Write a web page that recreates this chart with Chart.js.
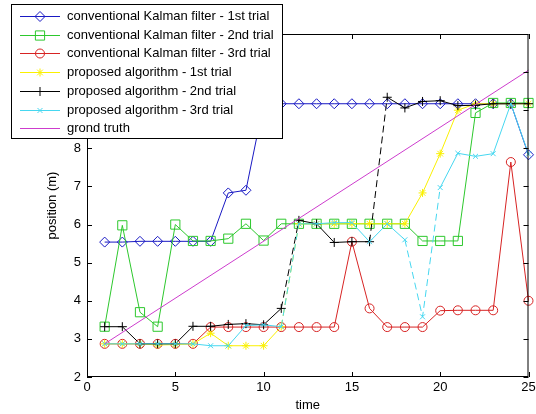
<!DOCTYPE html>
<html>
<head>
<meta charset="utf-8">
<script src="https://cdn.jsdelivr.net/npm/chart.js@4.4.1/dist/chart.umd.min.js"></script>
<style>
  html, body { margin: 0; padding: 0; background: #fff; }
  canvas { display: block; }
</style>
</head>
<body>
<canvas id="graficaPosicion" width="536" height="414"></canvas>
<script>
// valores (t = 1..25)
const tiempo = [1, 2, 3, 4, 5, 6, 7, 8, 9, 10, 11, 12, 13, 14, 15, 16, 17, 18, 19, 20, 21, 22, 23, 24, 25];
const kalman1 = [5.54, 5.54, 5.56, 5.56, 5.56, 5.56, 5.56, 6.83, 6.90, 9.17, 9.17, 9.17, 9.17, 9.17, 9.17, 9.17, 9.17, 9.17, 9.17, 9.17, 9.17, 9.17, 9.17, 9.17, 7.83];
const kalman2 = [3.32, 5.98, 3.70, 3.32, 6.00, 5.57, 5.57, 5.63, 6.02, 5.58, 6.02, 6.02, 6.02, 6.02, 6.02, 6.02, 6.02, 6.02, 5.57, 5.57, 5.57, 8.93, 9.19, 9.19, 9.19];
const kalman3 = [2.87, 2.87, 2.87, 2.87, 2.87, 2.87, 3.31, 3.31, 3.31, 3.31, 3.31, 3.31, 3.31, 3.31, 5.55, 3.80, 3.31, 3.31, 3.31, 3.74, 3.75, 3.75, 3.75, 7.64, 4.00];
const propuesto1 = [2.87, 2.87, 2.87, 2.84, 2.85, 2.87, 3.15, 2.82, 2.82, 2.82, 3.32, 6.02, 6.02, 6.02, 6.02, 6.02, 6.02, 6.02, 6.83, 7.86, 9.00, 9.17, 9.17, 9.17, 9.17];
const propuesto2 = [3.32, 3.32, 2.87, 2.87, 2.87, 3.33, 3.33, 3.38, 3.40, 3.37, 3.80, 6.11, 6.02, 5.53, 5.55, 5.55, 9.34, 9.06, 9.23, 9.25, 9.12, 9.13, 9.17, 9.17, 9.17];
const propuesto3 = [2.87, 2.87, 2.87, 2.87, 2.87, 2.87, 2.82, 2.82, 3.35, 3.37, 3.32, 6.02, 6.02, 6.05, 6.05, 5.55, 6.02, 5.60, 3.58, 6.97, 7.87, 7.79, 7.86, 9.17, 7.85];
const tiempoReal = [1, 25];
const posicionReal = [2.87, 10.05];

const ticksX = [0, 5, 10, 15, 20, 25];
const ticksY = [2, 3, 4, 5, 6, 7, 8, 9, 10, 11];

const fuente = "'Liberation Sans', Arial, sans-serif";

// los tramos muy empinados del algoritmo propuesto se ven discontinuos en la figura
const tramoDiscontinuo = {
    borderDash: (c) => (Math.abs(c.p1.parsed.y - c.p0.parsed.y) > 1.5 ? [7, 4] : undefined),
};

function serie(label, xs, ys, color, estilo, radio, orden, discontinuo) {
    const ds = {
        label: label,
        data: xs.map((x, i) => ({ x: x, y: ys[i] })),
        borderColor: color,
        backgroundColor: color,
        borderWidth: 1,
        pointStyle: estilo,
        pointRadius: radio,
        pointBorderColor: color,
        pointBackgroundColor: "rgba(0,0,0,0)",
        pointBorderWidth: 1,
        tension: 0,
        order: orden,
        clip: 8,
    };
    if (discontinuo) ds.segment = tramoDiscontinuo;
    return ds;
}

const datasets = [
    serie("conventional Kalman filter - 1st trial", tiempo, kalman1, "rgb(25,25,195)", "rectRot", 5, 7),
    serie("conventional Kalman filter - 2nd trial", tiempo, kalman2, "rgb(45,200,45)", "rect", 6.5, 6),
    serie("conventional Kalman filter - 3rd trial", tiempo, kalman3, "rgb(215,35,35)", "circle", 4.5, 5),
    serie("proposed algorithm - 1st trial", tiempo, propuesto1, "rgb(250,240,0)", "star", 4, 4, true),
    serie("proposed algorithm - 2nd trial", tiempo, propuesto2, "#000000", "cross", 4.5, 3, true),
    serie("proposed algorithm - 3rd trial", tiempo, propuesto3, "rgb(70,215,240)", "crossRot", 3.5, 2, true),
    serie("grond truth", tiempoReal, posicionReal, "rgb(205,60,205)", "circle", 0, 1),
];

// marco tipo MATLAB con marcas hacia dentro + leyenda encima del área
const marcoYLeyenda = {
    id: "marcoYLeyenda",
    afterDraw(chart) {
        const { ctx, chartArea: a, scales } = chart;
        ctx.save();
        ctx.strokeStyle = "#000";
        ctx.lineWidth = 1;
        ctx.strokeRect(a.left + 0.5, a.top + 0.5, a.right - a.left - 1, a.bottom - a.top - 1);
        ctx.beginPath();
        ticksX.forEach((v) => {
            const px = Math.round(scales.x.getPixelForValue(v)) + 0.5;
            ctx.moveTo(px, a.bottom); ctx.lineTo(px, a.bottom - 5);
            ctx.moveTo(px, a.top); ctx.lineTo(px, a.top + 5);
        });
        ticksY.forEach((v) => {
            const py = Math.round(scales.y.getPixelForValue(v)) + 0.5;
            ctx.moveTo(a.left, py); ctx.lineTo(a.left + 5, py);
            ctx.moveTo(a.right, py); ctx.lineTo(a.right - 5, py);
        });
        ctx.stroke();

        // leyenda
        ctx.fillStyle = "#fff";
        ctx.fillRect(12, 4, 271, 134);
        ctx.strokeRect(11.5, 4.5, 271, 134);
        ctx.font = "13px " + fuente;
        ctx.textBaseline = "middle";
        ctx.textAlign = "left";
        chart.data.datasets.forEach((ds, i) => {
            const y = Math.round(16 + i * 18.7) + 0.5;
            ctx.strokeStyle = ds.borderColor;
            ctx.beginPath();
            ctx.moveTo(20, y);
            ctx.lineTo(60, y);
            ctx.stroke();
            if (ds.pointRadius > 0 && window.Chart.helpers && Chart.helpers.drawPoint) {
                ctx.fillStyle = "rgba(0,0,0,0)";
                Chart.helpers.drawPoint(ctx, {
                    pointStyle: ds.pointStyle,
                    radius: ds.pointRadius,
                    rotation: 0,
                    borderWidth: 1,
                }, 40, y);
            }
            ctx.fillStyle = "#000";
            ctx.fillText(ds.label, 67, y);
        });
        ctx.restore();
    },
};

new Chart(document.getElementById("graficaPosicion").getContext("2d"), {
    type: "line",
    data: { datasets: datasets },
    options: {
        responsive: false,
        animation: false,
        devicePixelRatio: 1,
        layout: { padding: { top: 34, right: 3, left: 0, bottom: 0 } },
        plugins: { legend: { display: false }, tooltip: { enabled: false } },
        scales: {
            x: {
                type: "linear",
                min: 0,
                max: 25,
                afterBuildTicks(s) { s.ticks = ticksX.map((v) => ({ value: v })); },
                ticks: { padding: 3, color: "#000", font: { family: fuente, size: 13 }, maxRotation: 0, autoSkip: false },
                grid: { display: false, drawTicks: false },
                border: { display: false },
                title: { display: true, text: "time", color: "#000", font: { family: fuente, size: 13 }, padding: { top: 0, bottom: 0.5 } },
                afterFit(s) { s.height = 37; s.paddingLeft = 0; s.paddingRight = 0; },
            },
            y: {
                min: 2,
                max: 11,
                afterBuildTicks(s) { s.ticks = ticksY.map((v) => ({ value: v })); },
                ticks: { padding: 6, color: "#000", font: { family: fuente, size: 13 } },
                grid: { display: false, drawTicks: false },
                border: { display: false },
                title: { display: true, text: "position (m)", color: "#000", font: { family: fuente, size: 13 }, padding: { top: 45, bottom: 0 } },
                afterFit(s) { s.width = 87; s.paddingTop = 0; s.paddingBottom = 0; },
            },
        },
    },
    plugins: [marcoYLeyenda],
});
</script>
</body>
</html>
